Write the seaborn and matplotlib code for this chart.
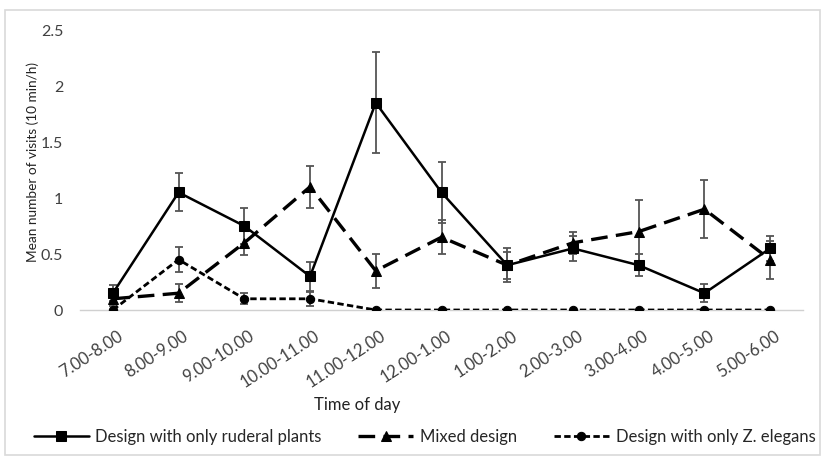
import pandas as pd
import matplotlib.pyplot as plt
import matplotlib.transforms as mtransforms
import numpy as np
import seaborn as sns
from matplotlib.patches import Rectangle

times = ["7.00-8.00", "8.00-9.00", "9.00-10.00", "10.00-11.00", "11.00-12.00",
         "12.00-1.00", "1.00-2.00", "2.00-3.00", "3.00-4.00", "4.00-5.00", "5.00-6.00"]

ruderal = [0.15, 1.05, 0.75, 0.30, 1.85, 1.05, 0.40, 0.55, 0.40, 0.15, 0.55]
ruderal_err = [0.07, 0.17, 0.16, 0.13, 0.45, 0.27, 0.15, 0.11, 0.10, 0.08, 0.11]

mixed = [0.10, 0.15, 0.60, 1.10, 0.35, 0.65, 0.40, 0.60, 0.70, 0.90, 0.45]
mixed_err = [0.06, 0.08, 0.11, 0.19, 0.15, 0.15, 0.12, 0.10, 0.28, 0.26, 0.17]

zelegans = [0.00, 0.45, 0.10, 0.10, 0.0, 0.0, 0.0, 0.0, 0.0, 0.0, 0.0]
zelegans_err = [0.0, 0.11, 0.05, 0.06, 0.0, 0.0, 0.0, 0.0, 0.0, 0.0, 0.0]

labels = ["Design with only ruderal plants", "Mixed design", "Design with only Z. elegans"]

sns.set_style("white")
plt.rcParams['font.family'] = ['Lato', 'DejaVu Sans']

fig = plt.figure(figsize=(8.25, 4.61), dpi=100)
ax = fig.add_axes([80/825, 1-310/461, (803-80)/825, 280/461])

x = np.arange(len(times))
series = [
    (ruderal, ruderal_err, "s", "", 1.8, 6.5),
    (mixed, mixed_err, "^", (5, 2.5), 2.4, 7),
    (zelegans, zelegans_err, "o", (2.3, 1.2), 2.0, 6),
]

for (vals, err, mk, dash, lw, ms), lab in zip(series, labels):
    ax.errorbar(x, vals, yerr=err, fmt="none", ecolor="#555555", elinewidth=1.3,
                capsize=2.8, capthick=1.3, zorder=2)
    df = pd.DataFrame({"x": x, "y": vals})
    sns.lineplot(data=df, x="x", y="y", ax=ax, color="black", marker=mk,
                 markersize=ms, markeredgecolor="black", linewidth=lw,
                 label=lab, zorder=3)
    line = ax.get_lines()[-1]
    if dash:
        line.set_dashes(dash)
    else:
        line.set_linestyle("-")

ax.set_xlim(-0.5, len(times) - 0.5)
ax.set_ylim(0, 2.5)
ax.set_yticks([0, 0.5, 1, 1.5, 2, 2.5])
ax.set_yticklabels(["0", "0.5", "1", "1.5", "2", "2.5"])
ax.set_xticks(x)
ax.set_xticklabels(times, rotation=33, ha="right", va="top", rotation_mode="anchor")
ax.tick_params(axis="both", length=0, labelsize=11.5, colors="#404040")
ax.tick_params(axis="y", pad=12)
ax.tick_params(axis="x", pad=13, labelsize=12)
shift = mtransforms.ScaledTranslation(4/100, 0, fig.dpi_scale_trans)
for t in ax.get_xticklabels():
    t.set_transform(t.get_transform() + shift)

for s in ["top", "right", "left"]:
    ax.spines[s].set_visible(False)
ax.spines["bottom"].set_color("#d0d0d0")
ax.spines["bottom"].set_linewidth(1)

ax.set_xlabel("Time of day", fontsize=12, color="#222222")
ax.xaxis.set_label_coords((357-80)/723, -87/280)
ax.set_ylabel("Mean number of visits (10 min/h)", fontsize=9.8, color="#222222")
ax.yaxis.set_label_coords(-41/723, (310-162)/280)

handles, labs = ax.get_legend_handles_labels()
ax.legend_.remove()
fig.legend(handles, labs, loc="center", bbox_to_anchor=(0.5 + 12/825, 1-437/461), ncol=3,
           frameon=False, fontsize=12, handlelength=3.3, columnspacing=2.2,
           handletextpad=0.4)

fig.patches.append(Rectangle((5/825, 1-455/461), 815/825, 445/461,
                             transform=fig.transFigure, fill=False,
                             edgecolor="#d9d9d9", linewidth=1.2))

fig.savefig("out.png", dpi=100)
